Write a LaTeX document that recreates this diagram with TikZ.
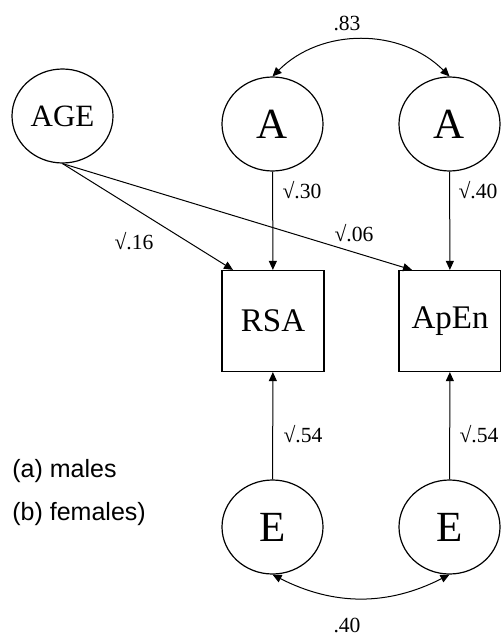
\documentclass[tikz,border=0pt]{standalone}
\usepackage{fontspec}
\setmainfont{Liberation Serif}
\newfontfamily\legendfont{Liberation Sans}
\usetikzlibrary{shapes.geometric,arrows.meta}

\begin{document}
\begin{tikzpicture}[x=0.5pt,y=-0.5pt,
  latent/.style={draw, ellipse, line width=0.6pt, minimum width=50.5pt, minimum height=47pt, inner sep=0pt},
  obs/.style={draw, rectangle, line width=0.6pt, minimum width=51pt, minimum height=50.5pt, inner sep=0pt, font=\fontsize{16.5}{18}\selectfont},
  lbl/.style={font=\fontsize{10.8}{12}\selectfont, inner sep=0pt},
  legend/.style={anchor=west, inner sep=0pt, font=\legendfont\fontsize{12.5}{14}\selectfont},
  arr/.style={line width=0.5pt, -{Triangle[length=4.5pt,width=4pt]}},
  biarr/.style={line width=0.5pt, {Triangle[length=4.5pt,width=4pt]}-{Triangle[length=4.5pt,width=4pt]}}
]

\useasboundingbox (0,0) rectangle (501,636);

\node [latent, font=\fontsize{15.5}{17}\selectfont] (age) at (62.5,116) {AGE};
\node [latent, font=\fontsize{21.5}{24}\selectfont] (a_1) at (272.5,124) {A};
\node [latent, font=\fontsize{21.5}{24}\selectfont] (a_2) at (449.5,124) {A};

\node [obs] (rsa) at (273,321) {RSA};
\node [obs] (apen) at (450,321) {ApEn};

\node [latent, font=\fontsize{21.5}{24}\selectfont] (e_1) at (272.5,527) {E};
\node [latent, font=\fontsize{21.5}{24}\selectfont] (e_2) at (449.5,527) {E};

% path weights
\node [lbl] (w_83) at (347,23) {.83};
\node [lbl] (w_30) at (302,190) {√.30};
\node [lbl] (w_40) at (478,190) {√.40};
\node [lbl] (w_16) at (134,241) {√.16};
\node [lbl] (w_06) at (354,233) {√.06};
\node [lbl] (w_54a) at (303,434) {√.54};
\node [lbl] (w_54b) at (479,434) {√.54};
\node [lbl] (w_40b) at (347,625) {.40};

\node [legend] (males) at (12,471) {(a) males};
\node [legend] (females) at (12,514) {(b) females)};

\draw[arr] (a_1)--(rsa);
\draw[arr] (a_2)--(apen);
\draw[arr] (e_1)--(rsa);
\draw[arr] (e_2)--(apen);

\draw[arr] (age.south)--([xshift=-20pt]rsa.north);
\draw[arr] (age.south)--([xshift=-19pt]apen.north);

\draw[biarr] (a_1.north) to[bend left=45] (a_2.north);
\draw[biarr] (e_1.south) to[bend right=27] (e_2.south);

\end{tikzpicture}
\end{document}
